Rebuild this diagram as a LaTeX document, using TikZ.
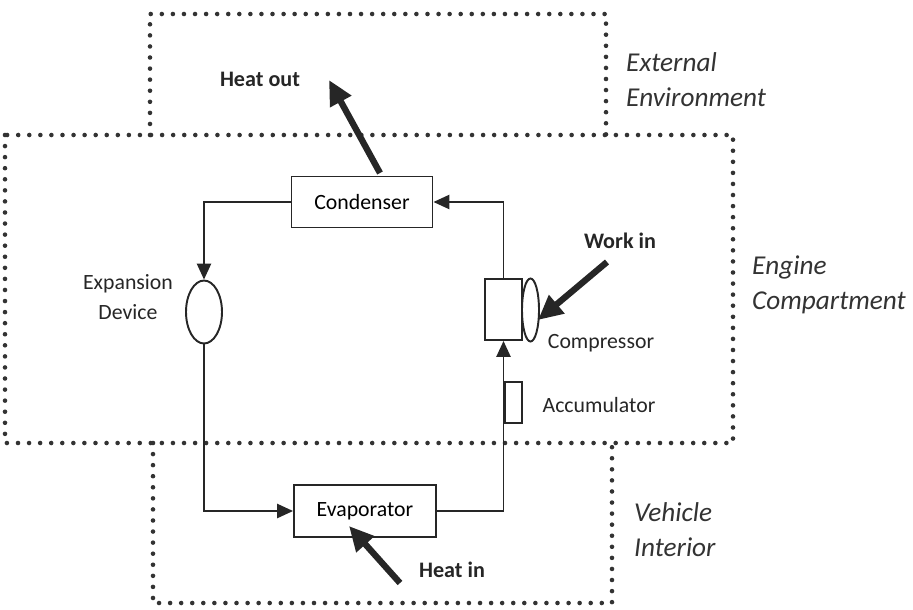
\documentclass[tikz,border=0pt]{standalone}
\usepackage{fontspec}
\setmainfont{Carlito}
\usetikzlibrary{positioning,arrows,shapes.geometric}
\usetikzlibrary{arrows.meta}

\begin{document}
\begin{tikzpicture}[x=0.02cm,y=-0.02cm]

\tikzstyle{zone}=[draw=black!80,line width=2.6pt,line cap=round,dash pattern=on 0pt off 6.3pt]
\tikzstyle{unit}=[rectangle,draw=black!85,line width=1.1pt,inner sep=0pt,font=\fontsize{12.4}{15}\selectfont]
\tikzstyle{valve}=[ellipse,draw=black!85,line width=1.1pt,inner sep=0pt]
\tikzstyle{pipe}=[draw=black!85,line width=1.1pt,-{Triangle[length=9pt,width=8pt]}]
\tikzstyle{heat}=[draw=black!85,line width=3.6pt,-{Triangle[length=14pt,width=13pt]}]
\tikzstyle{lbl}=[font=\fontsize{12.4}{17}\selectfont,text=black!85]
\tikzstyle{blbl}=[font=\fontsize{12.6}{15}\selectfont\bfseries,text=black!85]
\tikzstyle{zlbl}=[font=\fontsize{15.5}{20}\selectfont\itshape,text=black!80,align=left,anchor=west]

\useasboundingbox (0,0) rectangle (913,609);

% zones
\draw[zone] (150,135) -- (150,14) -- (606,14) -- (606,135);
\draw[zone] (5,135) rectangle (733,443);
\draw[zone] (153,443) -- (153,603) -- (612,603) -- (612,443);

\node (extenv) [zlbl] at (620,80) {External\\Environment};
\node (engine) [zlbl] at (746,285) {Engine\\Compartment};
\node (interior) [zlbl] at (628,530) {Vehicle\\Interior};

% components
\node (condenser) [unit,minimum width=2.82cm,minimum height=1.02cm] at (362,202) {Condenser};
\node (evaporator) [unit,minimum width=2.84cm,minimum height=1.04cm] at (365,511) {Evaporator};
\node (expdev) [valve,minimum width=0.72cm,minimum height=1.26cm] at (204,312) {};
\node (compbody) [unit,minimum width=0.74cm,minimum height=1.22cm] at (503.5,309.5) {};
\node (compwheel) [valve,minimum width=0.34cm,minimum height=1.26cm] at (530.5,310) {};
\node (accum) [unit,minimum width=0.34cm,minimum height=0.82cm] at (513.5,402.5) {};

\node (explbl) [lbl,align=center] at (128,297) {Expansion\\Device};
\node (complbl) [lbl] at (601,343) {Compressor};
\node (acclbl) [lbl] at (599,405) {Accumulator};

% refrigerant loop
\draw[pipe] (condenser.west) -| (expdev.north);
\draw[pipe] (expdev.south) |- (evaporator.west);
\draw[pipe] (evaporator.east) -| (compbody.south);
\draw[pipe] (compbody.north) |- (condenser.east);

% heat and work
\node (heatout) [blbl] at (260,79) {Heat out};
\node (workin) [blbl] at (620,241) {Work in};
\node (heatin) [blbl] at (452,570) {Heat in};
\coordinate (outtail) at (380,173);
\coordinate (outhead) at (329,80);
\coordinate (worktail) at (607,262);
\coordinate (workhead) at (538,320);
\coordinate (intail) at (400,583);
\coordinate (inhead) at (349,526);
\draw[heat] (outtail) -- (outhead);
\draw[heat] (worktail) -- (workhead);
\draw[heat] (intail) -- (inhead);

\end{tikzpicture}
\end{document}
